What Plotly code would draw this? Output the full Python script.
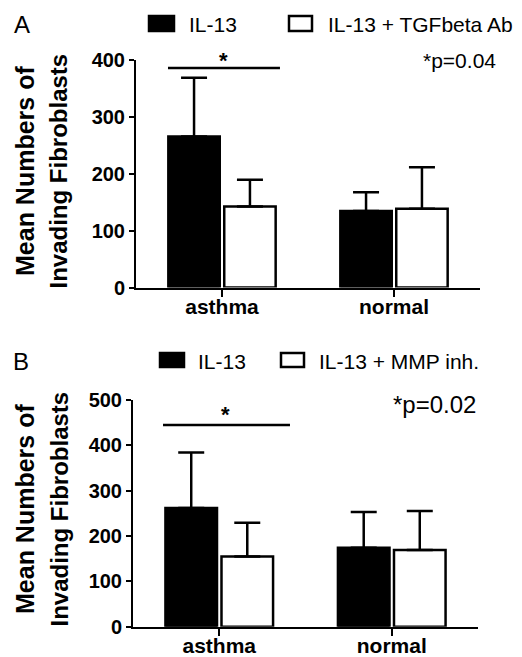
import plotly.graph_objects as go

# ---------------- data ----------------
categories = ["asthma", "normal"]

a_il13 = [265, 134]
a_il13_err = [103, 33]
a_tgf = [142, 138]
a_tgf_err = [47, 73]

b_il13 = [262, 174]
b_il13_err = [122, 79]
b_mmp = [155, 169]
b_mmp_err = [74, 86]

a_yticks = [0, 100, 200, 300, 400]
b_yticks = [0, 100, 200, 300, 400, 500]

W, H = 522, 657
OFF = 8  # page body margin
FONT = "Liberation Sans, Arial, sans-serif"


def px(x):
    return (x - OFF) / W


def py(y):
    return 1 - (y - OFF) / H


fig = go.Figure()


def add_bars(xa, ya, vals, errs, fill, name):
    fig.add_trace(go.Bar(
        x=categories, y=vals, name=name, xaxis=xa, yaxis=ya,
        marker=dict(color=fill, line=dict(color="black", width=2.5)),
        error_y=dict(type="data", symmetric=False, array=errs,
                     arrayminus=[0] * len(errs), color="black",
                     thickness=2.5, width=13),
        showlegend=False,
    ))


add_bars("x", "y", a_il13, a_il13_err, "black", "IL-13")
add_bars("x", "y", a_tgf, a_tgf_err, "white", "IL-13 + TGFbeta Ab")
add_bars("x2", "y2", b_il13, b_il13_err, "black", "IL-13")
add_bars("x2", "y2", b_mmp, b_mmp_err, "white", "IL-13 + MMP inh.")

axis_common = dict(showgrid=False, zeroline=False, showline=True,
                   linecolor="black", linewidth=2, ticks="outside",
                   tickcolor="black", tickwidth=2, automargin=False)

fig.update_layout(
    width=W, height=H,
    autosize=False,
    margin=dict(l=0, r=0, t=0, b=0, pad=0),
    paper_bgcolor="white", plot_bgcolor="white",
    barmode="group", bargap=0.35, bargroupgap=0.08,
    font=dict(family=FONT, color="black"),
    xaxis=dict(domain=[px(136), px(480)], anchor="y", range=[-0.5, 1.5],
               ticklen=7, ticklabelstandoff=-8,
               tickfont=dict(size=21, weight="bold"), **axis_common),
    yaxis=dict(domain=[py(287.5), py(59.5)], anchor="x", range=[0, 400],
               tickvals=a_yticks, ticklen=5,
               tickfont=dict(size=20, weight="bold"), **axis_common),
    xaxis2=dict(domain=[px(133), px(478)], anchor="y2", range=[-0.5, 1.5],
                ticklen=7, ticklabelstandoff=-8,
                tickfont=dict(size=21, weight="bold"), **axis_common),
    yaxis2=dict(domain=[py(626.7), py(400)], anchor="x2", range=[0, 500],
                tickvals=b_yticks, ticklen=5,
                tickfont=dict(size=20, weight="bold"), **axis_common),
)

shapes = []
annots = []


def note(x, y, text, size, bold=False, angle=0, xanchor="center", xref="paper", yref="paper"):
    f = dict(size=size)
    if bold:
        f["weight"] = "bold"
    annots.append(dict(xref=xref, yref=yref, x=x, y=y, text=text,
                       textangle=angle, showarrow=False, font=f,
                       xanchor=xanchor, yanchor="middle"))


# significance lines
shapes.append(dict(type="line", xref="x", yref="y", x0=-0.314, x1=0.337,
                   y0=385, y1=385, line=dict(color="black", width=2.5)))
shapes.append(dict(type="line", xref="x2", yref="y2", x0=-0.326, x1=0.41,
                   y0=445, y1=445, line=dict(color="black", width=2.5)))
note(0.006, 399, "*", 22, bold=True, xref="x", yref="y")
note(0.039, 469, "*", 22, bold=True, xref="x2", yref="y2")

# panel letters & p-values
note(px(22), py(24), "A", 24)
note(px(21), py(361), "B", 24)
note(px(459.5), py(60), "*p=0.04", 21)
note(px(434.5), py(404), "*p=0.02", 24)

# y axis titles (two lines each)
for yc in (171, 509):
    note(px(25), py(yc), "Mean Numbers of", 25, bold=True, angle=-90)
    note(px(58.5), py(yc), "Invading Fibroblasts", 24, bold=True, angle=-90)


# legends
def legend_item(x0, x1, y0, y1, fill, label, tx):
    shapes.append(dict(type="rect", xref="paper", yref="paper",
                       x0=px(x0), x1=px(x1), y0=py(y1), y1=py(y0),
                       fillcolor=fill, line=dict(color="black", width=2.5)))
    note(px(tx), py((y0 + y1) / 2 + 1), label, 21, xanchor="left")


legend_item(149, 174, 16, 31, "black", "IL-13", 187)
legend_item(289, 312, 16, 31, "white", "IL-13 + TGFbeta Ab", 326)
legend_item(160, 184, 353, 367, "black", "IL-13", 196)
legend_item(281, 304, 353, 367, "white", "IL-13 + MMP inh.", 317)

fig.update_layout(shapes=shapes, annotations=annots)

fig.write_html("out.html")
